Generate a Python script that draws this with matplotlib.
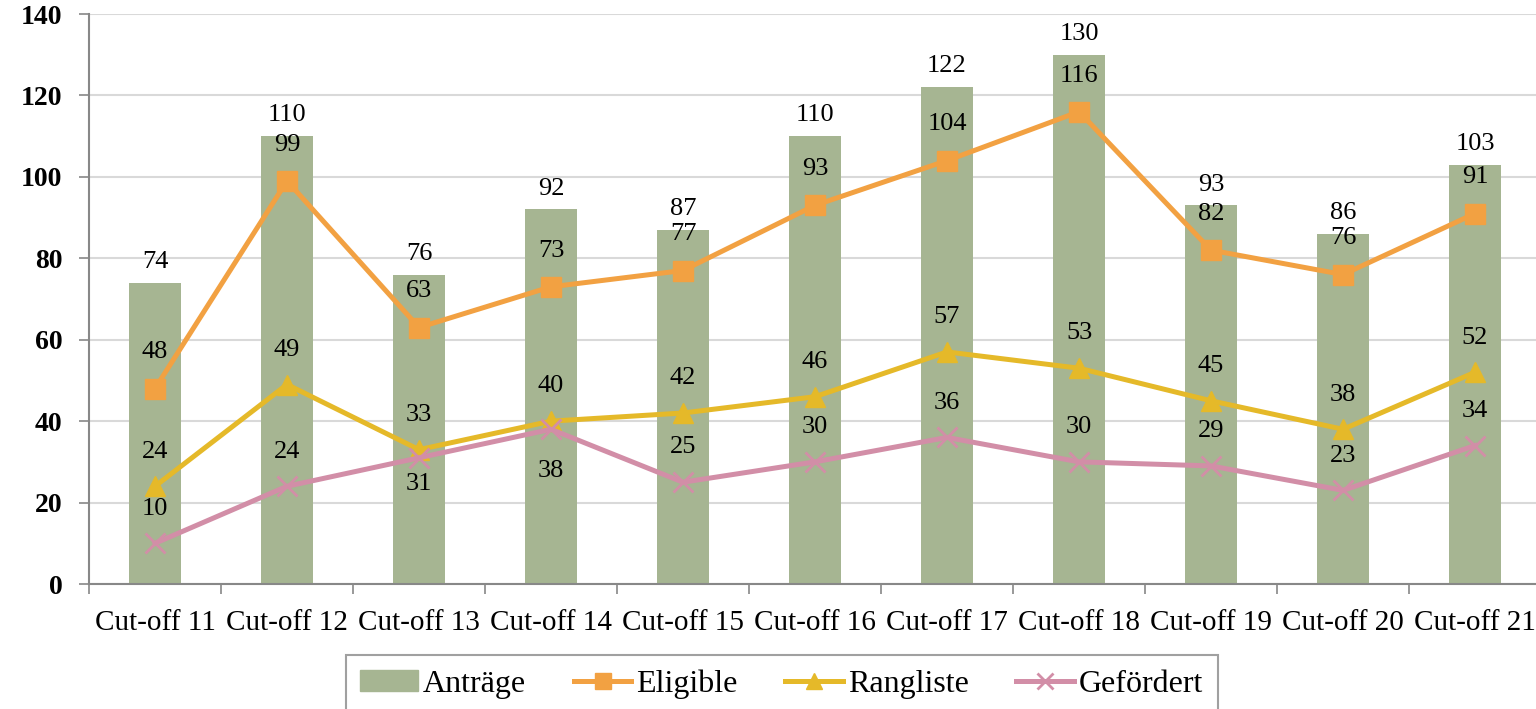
import matplotlib.pyplot as plt
from matplotlib.patches import Patch
from matplotlib.lines import Line2D

# data
categories = ["Cut-off 11", "Cut-off 12", "Cut-off 13", "Cut-off 14", "Cut-off 15", "Cut-off 16",
              "Cut-off 17", "Cut-off 18", "Cut-off 19", "Cut-off 20", "Cut-off 21"]
antraege = [74, 110, 76, 92, 87, 110, 122, 130, 93, 86, 103]
eligible = [48, 99, 63, 73, 77, 93, 104, 116, 82, 76, 91]
rangliste = [24, 49, 33, 40, 42, 46, 57, 53, 45, 38, 52]
gefoerdert = [10, 24, 31, 38, 25, 30, 36, 30, 29, 23, 34]
# label-versatz (punkte) fuer Gefoerdert, zwei liegen unter dem Marker
gef_off = [25, 25, -19, -30, 25, 25, 25, 25, 25, 25, 25]

c_bar = "#A6B592"
c_eli = "#F2A142"
c_rang = "#E5B929"
c_gef = "#D28EA7"

plt.rcParams["font.family"] = ["Liberation Serif", "DejaVu Serif"]

fig = plt.figure(figsize=(15.36, 7.09), dpi=100)
ax = fig.add_axes([89/1536, 125/709, 1452/1536, 570/709])

x = list(range(len(categories)))
ax.bar(x, antraege, width=0.4, color=c_bar, zorder=2)
ax.plot(x, eligible, color=c_eli, lw=3.6, marker="s", ms=14, zorder=4)
ax.plot(x, rangliste, color=c_rang, lw=3.6, marker="^", ms=15, zorder=4)
ax.plot(x, gefoerdert, color=c_gef, lw=3.6, marker="x", ms=14, mew=2, zorder=4)

fs = 19
for i in x:
    ax.annotate(str(antraege[i]), (i, antraege[i]), xytext=(0, 15), textcoords="offset points",
                ha="center", va="center", fontsize=fs, zorder=5)
    ax.annotate(str(eligible[i]), (i, eligible[i]), xytext=(0, 26), textcoords="offset points",
                ha="center", va="center", fontsize=fs, zorder=5)
    ax.annotate(str(rangliste[i]), (i, rangliste[i]), xytext=(0, 25), textcoords="offset points",
                ha="center", va="center", fontsize=fs, zorder=5)
    ax.annotate(str(gefoerdert[i]), (i, gefoerdert[i]), xytext=(0, gef_off[i]), textcoords="offset points",
                ha="center", va="center", fontsize=fs, zorder=5)

ax.set_xlim(-0.5, len(categories) - 0.5)
ax.set_ylim(0, 140)
ax.set_yticks(range(0, 141, 20))
ax.yaxis.grid(True, color="#D9D9D9", lw=1.5, zorder=0)
ax.set_axisbelow(True)

ax.set_xticks([i - 0.5 for i in range(len(categories) + 1)])
ax.set_xticklabels([])
ax.set_xticks(x, minor=True)
ax.set_xticklabels(categories, minor=True, fontsize=21)
ax.tick_params(axis="x", which="major", length=7, color="#888888", width=1.2)
ax.tick_params(axis="x", which="minor", length=0, pad=19)
ax.tick_params(axis="y", length=7, color="#888888", width=1.2, labelsize=20, pad=12)
for lab in ax.get_yticklabels():
    lab.set_fontweight("bold")

for s in ["top", "right"]:
    ax.spines[s].set_visible(False)
for s in ["left", "bottom"]:
    ax.spines[s].set_color("#888888")
    ax.spines[s].set_linewidth(1.5)

handles = [
    Patch(color=c_bar, label="Anträge"),
    Line2D([], [], color=c_eli, lw=3.6, marker="s", ms=12, label="Eligible"),
    Line2D([], [], color=c_rang, lw=3.6, marker="^", ms=12, label="Rangliste"),
    Line2D([], [], color=c_gef, lw=3.6, marker="x", ms=12, mew=2, label="Gefördert"),
]
leg = fig.legend(handles=handles, loc="upper center", bbox_to_anchor=(0.509, 0.0762), ncol=4,
                 fontsize=23, frameon=True, fancybox=False, edgecolor="#888888",
                 handlelength=1.8, handleheight=0.6, handletextpad=0.15, columnspacing=1.5,
                 borderpad=0.45, borderaxespad=0)
leg.get_frame().set_linewidth(1.5)

fig.savefig("out.png", dpi=100)
